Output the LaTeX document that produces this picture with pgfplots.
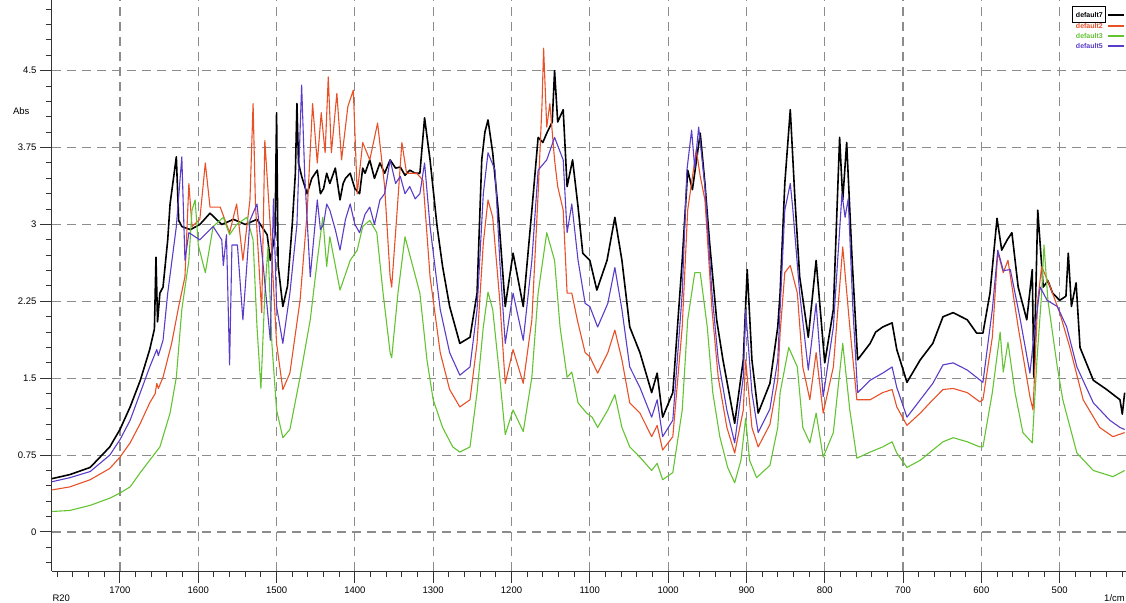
\documentclass[border=0pt]{standalone}
\usepackage{pgfplots}
\pgfplotsset{compat=1.18}
\usepackage{fontspec}
\setmainfont{Liberation Sans}
\definecolor{cred}{RGB}{232,80,40}
\definecolor{cgreen}{RGB}{100,195,50}
\definecolor{cpurple}{RGB}{90,60,200}
\definecolor{gridgray}{RGB}{140,140,140}
\begin{document}
\begin{tikzpicture}[x=1pt,y=1pt]
\useasboundingbox (0,0) rectangle (1126,602);
\begin{axis}[
  at={(52pt,31pt)}, anchor=south west,
  scale only axis, width=1074pt, height=571pt,
  x dir=reverse,
  xmin=415.3, xmax=1786.8, ymin=-0.3805, ymax=5.19,
  axis lines=left, axis line style={-, black!80, line width=1pt},
  xtick={500,600,700,800,900,1000,1100,1200,1300,1400,1500,1600,1700},
  xticklabels={500,600,700,800,900,1000,1100,1200,1300,1400,1500,1600,1700},
  minor xtick={420,440,...,1780},
  ytick={0.75,1.5,2.25,3,3.75,4.5},
  yticklabels={0.75,1.5,2.25,3,3.75,4.5},
  extra y ticks={0}, extra y tick labels={0},
  extra y tick style={grid style={black!65, dash pattern=on 9pt off 6pt, line width=1.4pt}},
  minor ytick={-0.3,-0.15,...,5.1},
  tick align=outside, major tick length=12pt, minor tick length=6pt,
  tick style={black!80, line width=1pt},
  grid=major, major grid style={gridgray, dash pattern=on 9pt off 6pt, line width=1.2pt},
  ticklabel style={font=\fontsize{9.5}{10}\selectfont},
  every axis plot/.append style={line join=round},
]
\addplot[black, line width=1.6pt] coordinates {
(1787,0.52) (1764,0.56) (1738,0.63) (1713,0.83) (1700,1.0) (1687,1.22) (1674,1.48) (1662,1.78)
(1656,1.98) (1654,2.68) (1652,2.05) (1649,2.33) (1645,2.39) (1639,2.85) (1636,3.2) (1628,3.66)
(1625,3.04) (1621,2.98) (1610,2.95) (1598,3.0) (1585,3.11) (1570,3.0) (1555,3.05) (1540,3.0)
(1525,3.05) (1512,2.9) (1508,2.65) (1502,2.9) (1500,4.09) (1498,2.6) (1492,2.2) (1486,2.4)
(1480,3.0) (1476,3.5) (1474,4.18) (1472,3.6) (1468,3.47) (1461,3.3) (1455,3.45) (1448,3.53)
(1444,3.3) (1440,3.35) (1436,3.5) (1432,3.4) (1425,3.55) (1419,3.24) (1415,3.4) (1412,3.45)
(1406,3.5) (1400,3.35) (1394,3.3) (1390,3.55) (1387,3.5) (1381,3.63) (1375,3.45) (1368,3.6)
(1362,3.5) (1355,3.63) (1348,3.55) (1342,3.56) (1336,3.48) (1330,3.53) (1323,3.5) (1317,3.5)
(1311,4.04) (1304,3.63) (1295,2.98) (1288,2.59)
(1279,2.2) (1266,1.84) (1253,1.9) (1244,2.33) (1238,3.63) (1234,3.9) (1230,4.02) (1224,3.7)
(1217,3.14) (1208,2.2) (1198,2.72) (1185,2.2) (1174,3.14) (1166,3.85) (1160,3.8) (1155,3.89)
(1148,4.0) (1145,4.5) (1141,4.0) (1134,4.12) (1129,3.37) (1122,3.63) (1115,3.17) (1109,2.72)
(1100,2.65) (1091,2.36) (1078,2.65) (1068,3.07) (1059,2.65) (1049,2.0) (1036,1.75) (1021,1.36)
(1014,1.55) (1007,1.12) (994,1.36) (982,2.65) (975,3.53) (969,3.34) (959,3.89) (953,3.4)
(947,2.82) (938,2.07) (930,1.68) (915,1.06) (904,1.68) (899,2.56) (893,1.68) (885,1.16)
(870,1.45) (860,2.0) (857,2.33) (851,3.4) (844,4.12) (838,3.24) (832,2.49) (821,1.9)
(811,2.65) (800,1.65) (789,2.17) (781,3.85) (777,3.24) (772,3.8) (765,2.65) (758,1.68)
(742,1.84) (735,1.95) (726,2.0) (714,2.04) (708,1.78) (695,1.46) (678,1.68) (662,1.84)
(649,2.1) (636,2.14) (618,2.07) (606,1.94) (598,1.94) (589,2.33) (580,3.06) (574,2.75)
(567,2.85) (561,2.92) (553,2.39) (542,2.07) (535,2.56) (533,1.51) (528,3.14) (521,2.39)
(515,2.45) (509,2.33) (500,2.26) (492,2.3) (489,2.72) (485,2.2) (479,2.43) (474,1.8)
(457,1.48) (440,1.39) (423,1.29) (420,1.15) (417,1.36)
};
\addplot[cred, line width=1.1pt] coordinates {
(1787,0.41) (1764,0.44) (1738,0.51) (1713,0.62) (1700,0.73) (1687,0.87) (1674,1.06) (1662,1.26)
(1655,1.35) (1653,1.45) (1651,1.4) (1645,1.51) (1634,1.84) (1625,2.2) (1617,2.49) (1612,3.4)
(1608,2.98) (1598,3.05) (1591,3.6) (1585,3.17) (1572,3.17) (1560,2.92) (1551,3.2) (1543,2.65)
(1534,3.24) (1530,4.18) (1527,3.2) (1519,2.14) (1515,3.82) (1508,2.98) (1500,1.84) (1492,1.39)
(1483,1.55) (1470,2.26) (1461,3.11) (1454,4.18) (1448,3.6) (1443,4.09) (1438,3.7) (1434,4.44)
(1430,3.7) (1423,4.28) (1417,3.63) (1409,4.15) (1402,4.31) (1397,3.3) (1390,3.8) (1381,3.63)
(1371,3.99) (1362,3.37) (1355,2.49) (1353,2.39) (1346,3.14) (1340,3.8) (1334,3.5) (1321,3.5)
(1313,3.43) (1304,2.49) (1291,1.75) (1279,1.39) (1266,1.22) (1253,1.29) (1244,1.84) (1236,2.82)
(1230,3.24) (1224,3.07) (1215,2.26) (1208,1.45) (1198,1.78) (1185,1.45) (1174,2.07) (1166,3.3)
(1161,4.18) (1159,4.72) (1155,3.95) (1151,4.18) (1145,3.63) (1141,3.37) (1134,3.14) (1129,2.33)
(1123,2.33) (1116,2.07) (1106,1.75) (1100,1.71) (1090,1.55) (1077,1.75) (1068,1.97) (1059,1.68)
(1049,1.26) (1036,1.16) (1021,0.93) (1014,1.04) (1007,0.8) (994,0.93) (982,2.0) (975,3.14)
(964,3.73) (959,3.47) (953,3.24) (944,2.17) (936,1.51) (925,1.02) (915,0.77) (904,1.19)
(901,1.68) (893,1.02) (885,0.83) (870,1.05) (860,1.48) (857,1.94) (851,2.53) (844,2.6)
(835,2.33) (828,1.61) (819,1.29) (811,1.75) (802,1.16) (789,1.61) (777,2.78) (768,2.0)
(759,1.29) (742,1.29) (726,1.36) (714,1.39) (708,1.22) (695,1.04) (678,1.16) (662,1.29)
(649,1.39) (636,1.4) (618,1.36) (602,1.27) (598,1.29) (586,1.9) (579,2.73) (572,2.53)
(566,2.65) (553,2.0) (538,1.32) (534,1.19) (528,2.26) (523,2.59) (512,2.39) (500,2.14)
(487,1.8) (470,1.29) (449,1.02) (432,0.93) (417,0.97)
};
\addplot[cgreen, line width=1.1pt] coordinates {
(1787,0.2) (1764,0.21) (1738,0.26) (1713,0.33) (1700,0.38) (1687,0.44) (1674,0.58) (1662,0.7)
(1649,0.83) (1636,1.16) (1628,1.51) (1621,2.17) (1612,2.65) (1608,3.14) (1604,3.24) (1600,2.8)
(1591,2.53) (1581,2.98) (1568,3.07) (1560,2.9) (1551,3.0) (1538,3.07) (1530,2.85) (1525,2.0)
(1520,1.4) (1515,2.33) (1511,2.78) (1506,1.84) (1500,1.19) (1492,0.92) (1483,1.0) (1470,1.51)
(1457,2.07) (1448,2.65) (1441,3.07) (1436,2.59) (1432,2.88) (1419,2.36) (1406,2.65) (1397,2.75)
(1390,2.98) (1381,3.04) (1372,2.92) (1364,2.33) (1355,1.75) (1353,1.7) (1345,2.33) (1336,2.88)
(1326,2.59) (1317,2.33) (1308,1.68) (1300,1.29) (1288,1.02) (1275,0.83) (1266,0.78) (1253,0.83)
(1244,1.36) (1236,2.0) (1230,2.34) (1224,2.17) (1215,1.51) (1208,0.95) (1198,1.19) (1185,0.98)
(1174,1.51) (1166,2.33) (1155,2.92) (1145,2.65) (1138,2.0) (1129,1.51) (1123,1.56) (1115,1.26)
(1104,1.16) (1097,1.12) (1090,1.02) (1077,1.19) (1068,1.34) (1059,1.02) (1049,0.83) (1036,0.73)
(1021,0.6) (1014,0.67) (1007,0.51) (994,0.58) (982,1.19) (975,2.07) (966,2.53) (959,2.53)
(950,2.0) (943,1.36) (934,0.93) (924,0.63) (915,0.48) (907,0.7) (901,1.11) (896,0.7)
(887,0.53) (870,0.65) (860,1.02) (857,1.36) (846,1.8) (835,1.61) (828,1.02) (819,0.87)
(811,1.16) (802,0.73) (789,0.97) (777,1.84) (768,1.19) (759,0.72) (742,0.78) (726,0.83)
(714,0.88) (708,0.77) (695,0.63) (678,0.7) (662,0.8) (649,0.88) (636,0.92) (618,0.88)
(602,0.83) (598,0.83) (586,1.36) (576,1.95) (572,1.56) (566,1.85) (557,1.36) (547,0.97)
(535,0.87) (529,1.68) (523,2.33) (520,2.8) (515,2.26) (503,1.61) (496,1.29) (478,0.77)
(457,0.6) (432,0.54) (417,0.6)
};
\addplot[cpurple, line width=1.1pt] coordinates {
(1787,0.49) (1764,0.53) (1738,0.59) (1713,0.75) (1700,0.9) (1687,1.09) (1674,1.36) (1662,1.61)
(1653,1.78) (1651,1.72) (1645,1.87) (1639,2.33) (1628,2.98) (1621,3.66) (1617,2.65) (1612,2.92)
(1598,2.85) (1581,2.98) (1570,2.85) (1568,2.6) (1564,2.9) (1560,1.63) (1557,2.8) (1550,2.8)
(1543,2.07) (1538,2.6) (1534,3.04) (1525,3.2) (1517,2.59) (1508,1.87) (1504,3.25) (1500,2.2)
(1492,1.84) (1483,2.33) (1474,3.0) (1468,4.36) (1464,3.47) (1457,2.49) (1448,3.24) (1444,2.95)
(1440,3.0) (1436,3.2) (1432,3.14) (1425,2.95) (1419,2.75) (1412,3.05) (1406,3.2) (1400,3.0)
(1394,2.92) (1387,3.1) (1381,3.17) (1375,3.0) (1368,3.24) (1362,3.3) (1355,3.63) (1348,3.4)
(1342,3.47) (1336,3.3) (1330,3.37) (1323,3.25) (1317,3.3) (1311,3.6) (1304,2.98) (1291,2.17)
(1279,1.75) (1266,1.53)
(1253,1.61) (1244,2.17) (1236,3.3) (1230,3.7) (1221,3.53) (1215,2.65) (1208,1.84) (1198,2.33)
(1185,1.87) (1174,2.65) (1166,3.53) (1155,3.63) (1145,3.85) (1134,3.63) (1129,2.92) (1123,3.2)
(1115,2.65) (1106,2.23) (1100,2.2) (1090,2.0) (1077,2.23) (1068,2.58) (1059,2.17) (1049,1.61)
(1036,1.41) (1021,1.12) (1014,1.29) (1007,0.93) (994,1.09) (982,2.33) (976,3.53) (970,3.92)
(966,3.55) (961,3.95) (953,3.37) (944,2.33) (936,1.68) (925,1.19) (915,0.87) (904,1.51)
(901,2.17) (893,1.36) (885,0.97) (870,1.2) (860,1.68) (857,2.17) (851,3.14) (844,3.4)
(841,3.17) (832,2.33) (821,1.58) (811,2.23) (802,1.32) (789,2.0) (778,3.3) (774,3.07)
(770,3.25) (764,2.17) (758,1.36) (742,1.48) (726,1.55) (714,1.61) (708,1.41) (695,1.12)
(678,1.29) (662,1.45) (649,1.63) (636,1.65) (618,1.58) (598,1.46) (586,2.17) (579,2.75)
(572,2.55) (563,2.56) (551,2.1) (538,1.55) (533,1.9) (525,2.39) (516,2.26) (503,2.2)
(491,2.0) (478,1.61) (457,1.26) (436,1.09) (423,1.02) (417,1.0)
};
\end{axis}
% legend (top right, as in the reference)
\fill[white] (1068,550) rectangle (1126,597);
\draw[black, line width=0.8pt] (1072,580) rectangle (1105,596);
\node[anchor=east, font=\fontsize{7}{7}\selectfont\bfseries, inner sep=1pt] at (1104,587) {default7};
\node[anchor=east, font=\fontsize{7}{7}\selectfont\bfseries, text=cred, inner sep=1pt] at (1104,576) {default2};
\node[anchor=east, font=\fontsize{7}{7}\selectfont\bfseries, text=cgreen, inner sep=1pt] at (1104,566) {default3};
\node[anchor=east, font=\fontsize{7}{7}\selectfont\bfseries, text=cpurple, inner sep=1pt] at (1104,556) {default5};
\draw[black, line width=1.6pt] (1108,587) -- (1124,587);
\draw[cred, line width=1.2pt] (1108,576) -- (1124,576);
\draw[cgreen, line width=1.2pt] (1108,566) -- (1124,566);
\draw[cpurple, line width=1.6pt] (1108,556) -- (1124,556);
\node[anchor=east, font=\fontsize{9.5}{10}\selectfont] at (33,491) {Abs};
\node[anchor=west, font=\fontsize{9.5}{10}\selectfont] at (49,4) {R20};
\node[anchor=east, font=\fontsize{9.5}{10}\selectfont, inner sep=1pt] at (1126,4) {1/cm};
\end{tikzpicture}
\end{document}
